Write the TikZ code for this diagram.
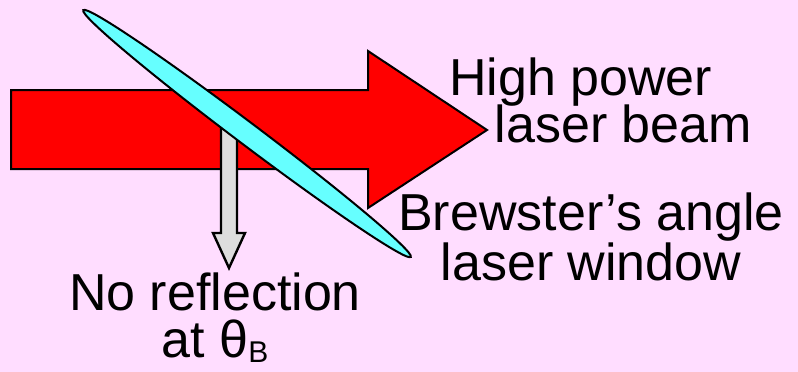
\documentclass[tikz,border=0pt]{standalone}
\usepackage{fontspec}
\setmainfont{Liberation Sans}
\usepackage{tikz}
\definecolor{bgpink}{HTML}{FFDDFF}
\definecolor{wincyan}{HTML}{66FFFF}
\definecolor{reflgray}{HTML}{DDDDDD}

\begin{document}
\begin{tikzpicture}[
  x=1pt, y=-1pt,
  beam/.style={draw=black, line width=2pt, fill=red, line join=miter},
  window/.style={draw=black, line width=2pt, fill=wincyan},
  refl/.style={draw=black, line width=2.4pt, fill=reflgray, line join=miter},
  lbl/.style={inner sep=0pt, font=\fontsize{52}{47}\selectfont, align=center}
]
\fill[bgpink] (0,0) rectangle (798,372);
\useasboundingbox (0,0) rectangle (798,372);
% laser beam
\draw[beam] (11,90) -- (368,90) -- (368,51) -- (487,130) -- (368,208)
            -- (368,169) -- (11,169) -- cycle;
% reflected ray (none)
\draw[refl] (221,118) -- (237,118) -- (237,233) -- (245,233) -- (229,268)
            -- (213,233) -- (221,233) -- cycle;
% Brewster window
\coordinate (wc) at (247,133.5);
\draw[window, rotate around={-37:(wc)}] (wc) ellipse [x radius=205, y radius=11];
% labels
\node[lbl, anchor=base west] (hipow) at (449,95) {High power};
\node[lbl, anchor=base west] (lbeam) at (494.5,142) {laser beam};
\node[lbl, anchor=base] (brew) at (591,280) {Brewster’s angle\\laser window};
\node[lbl, anchor=base] (norefl) at (215,357)
     {No reflection\\at θ\raisebox{-5pt}{\fontsize{30}{30}\selectfont B}};
\end{tikzpicture}
\end{document}
